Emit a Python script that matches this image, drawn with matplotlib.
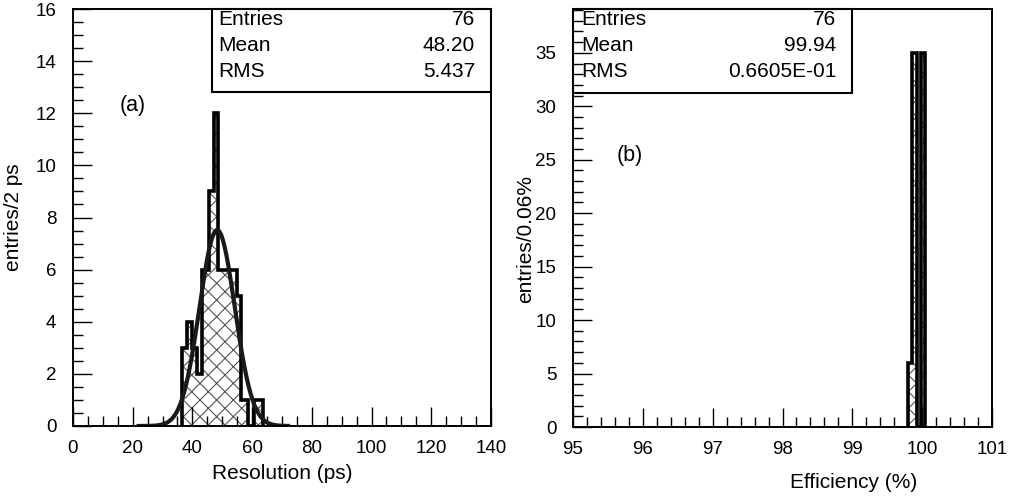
import matplotlib.pyplot as plt
import numpy as np
from matplotlib.patches import Rectangle
from matplotlib.ticker import MultipleLocator

plt.rcParams['font.family'] = ['Liberation Sans', 'DejaVu Sans']
plt.rcParams['hatch.linewidth'] = 0.8

# (a) resolution histogram
res_edges = [36.6, 38.3, 40.0, 41.5, 43.2, 44.4, 45.6, 47.1, 48.7, 50.3,
             52.0, 53.5, 54.9, 56.2, 58.7, 60.6, 63.7]
res_counts = [3, 4, 3, 2, 6, 6, 9, 12, 6, 6, 6, 6, 5, 1, 0, 1]
fit_const, fit_mean, fit_sigma = 7.52, 48.3, 5.9
fit_range = (22, 72)
res_stats = [('Entries', '76'), ('Mean', '48.20'), ('RMS', '5.437')]

# (b) efficiency histogram
eff_edges = [99.80, 99.86, 99.92, 99.98, 100.04]
eff_counts = [6, 35, 0, 35]
eff_stats = [('Entries', '76'), ('Mean', '99.94'), ('RMS', '0.6605E-01')]

fig = plt.figure(figsize=(10.09, 5.0), dpi=100)
ax1 = fig.add_axes([0.0723, 0.148, 0.4143, 0.834])
ax2 = fig.add_axes([0.5679, 0.146, 0.4153, 0.836])


def draw_hist(ax, edges, counts):
    ax.stairs(counts, edges, baseline=0, fill=True, facecolor='none',
              edgecolor='#555555', hatch='xx', linewidth=0)
    ax.stairs(counts, edges, baseline=0, color='black', linewidth=2.6)


def stats_box(ax, x0, x1, y0, rows, tx0, tx1):
    ax.add_patch(Rectangle((x0, y0), x1 - x0, 1 - y0, transform=ax.transAxes,
                           fill=False, edgecolor='black', linewidth=1.5,
                           clip_on=False, zorder=5))
    for yc, (name, val) in zip([0.975, 0.913, 0.851], rows):
        ax.text(tx0, yc, name, transform=ax.transAxes, ha='left',
                va='center', fontsize=15)
        ax.text(tx1, yc, val, transform=ax.transAxes, ha='right',
                va='center', fontsize=15)


def style(ax):
    for s in ax.spines.values():
        s.set_linewidth(1.4)
    ax.tick_params(which='both', direction='in', top=False, right=False,
                   labelsize=13.5)
    ax.tick_params(which='major', length=14, width=1)
    ax.tick_params(which='minor', length=7, width=1)
    ax.tick_params(axis='x', which='major', pad=10)
    ax.tick_params(axis='y', which='major', pad=12)


draw_hist(ax1, res_edges, res_counts)
xf = np.linspace(fit_range[0], fit_range[1], 300)
ax1.plot(xf, fit_const * np.exp(-0.5 * ((xf - fit_mean) / fit_sigma) ** 2),
         color='#1a1a1a', linewidth=3)
ax1.set_xlim(0, 140)
ax1.set_ylim(0, 16)
ax1.xaxis.set_major_locator(MultipleLocator(20))
ax1.xaxis.set_minor_locator(MultipleLocator(5))
ax1.yaxis.set_major_locator(MultipleLocator(2))
ax1.yaxis.set_minor_locator(MultipleLocator(0.5))
style(ax1)
ax1.set_xlabel('Resolution (ps)', fontsize=15)
ax1.set_ylabel('entries/2 ps', fontsize=15)
ax1.xaxis.set_label_coords(0.5, -0.092)
ax1.yaxis.set_label_coords(-0.12, 0.5)
ax1.text(15.5, 12.3, '(a)', fontsize=15.5, va='center')
stats_box(ax1, 0.3325, 1.0, 0.8, res_stats, 0.348, 0.962)

draw_hist(ax2, eff_edges, eff_counts)
ax2.set_xlim(95, 101)
ax2.set_ylim(0, 39.1)
ax2.xaxis.set_major_locator(MultipleLocator(1))
ax2.xaxis.set_minor_locator(MultipleLocator(0.2))
ax2.yaxis.set_major_locator(MultipleLocator(5))
ax2.yaxis.set_minor_locator(MultipleLocator(1))
style(ax2)
ax2.set_xlabel('Efficiency (%)', fontsize=15)
ax2.set_ylabel('entries/0.06%', fontsize=15)
ax2.xaxis.set_label_coords(0.67, -0.11)
ax2.yaxis.set_label_coords(-0.09, 0.45)
ax2.text(95.63, 25.4, '(b)', fontsize=15.5, va='center')
stats_box(ax2, 0.0, 0.666, 0.8, eff_stats, 0.02, 0.628)

fig.savefig('out.png', dpi=100)
